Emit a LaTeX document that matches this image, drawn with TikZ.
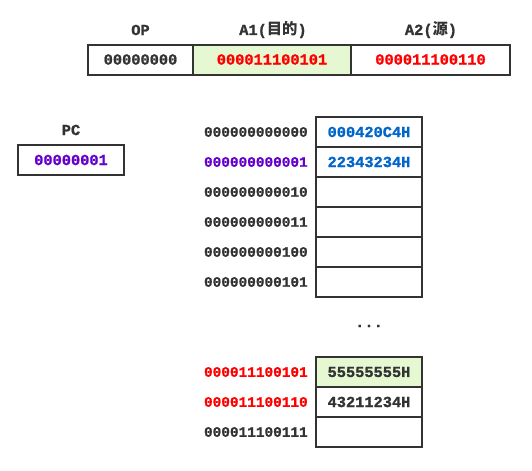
\documentclass[tikz,border=0pt]{standalone}
\usepackage{fontspec}
\setmonofont[BoldFeatures={FakeBold=1.2}]{Liberation Mono}
\newfontfamily\cjk{Noto Sans CJK SC}
\usetikzlibrary{positioning}
\definecolor{Ink}{HTML}{333333}
\definecolor{AddrRed}{HTML}{FF0000}
\definecolor{PcPurple}{HTML}{6600CC}
\definecolor{WordBlue}{HTML}{0066CC}
\definecolor{HitGreen}{HTML}{E6F8D2}

\begin{document}
\begin{tikzpicture}[
  x=0.75pt,y=-0.75pt,
  font=\ttfamily\bfseries\fontsize{11.5pt}{13pt}\selectfont,
  cell/.style={draw=Ink,line width=1.5pt,fill=white,text=Ink,
    minimum height=22.5pt,inner sep=0pt,outer sep=0pt},
  word/.style={cell,minimum width=79.5pt},
  addr/.style={anchor=east,text=Ink,inner sep=0pt,
    font=\ttfamily\bfseries\fontsize{10.8pt}{13pt}\selectfont},
  hdr/.style={text=Ink,inner sep=0pt}
]
  \useasboundingbox (0,0) rectangle (532,471);

  % instruction register
  \node[cell,minimum width=78.75pt] (op) at (140.5,59.5) {00000000};
  \node[cell,minimum width=118.5pt,fill=HitGreen,text=AddrRed,right=0pt of op]
    (aone) {000011100101};
  \node[cell,minimum width=119.25pt,text=AddrRed,right=0pt of aone]
    (atwo) {000011100110};
  \node[hdr] (ophdr) at (140.5,30) {OP};
  \node[hdr] (aonehdr) at (273,30) {A1({\cjk\bfseries 目的})};
  \node[hdr] (atwohdr) at (431,30) {A2({\cjk\bfseries 源})};

  % program counter
  \node[cell,minimum width=79.5pt,text=PcPurple] (pc) at (71,160) {00000001};
  \node[hdr] (pchdr) at (71,130) {PC};

  % memory
  \node[word,text=WordBlue] (m0) at (369,132) {000420C4H};
  \node[word,text=WordBlue,below=0pt of m0] (m1) {22343234H};
  \node[word,below=0pt of m1] (m2) {};
  \node[word,below=0pt of m2] (m3) {};
  \node[word,below=0pt of m3] (m4) {};
  \node[word,below=0pt of m4] (m5) {};
  \node[hdr] (dots) at (369,326) {...};
  \node[word,fill=HitGreen] (m6) at (369,372) {55555555H};
  \node[word,below=0pt of m6] (m7) {43211234H};
  \node[word,below=0pt of m7] (m8) {};

  \node[addr,left=6pt of m0] (a0) {000000000000};
  \node[addr,left=6pt of m1,text=PcPurple] (a1) {000000000001};
  \node[addr,left=6pt of m2] (a2) {000000000010};
  \node[addr,left=6pt of m3] (a3) {000000000011};
  \node[addr,left=6pt of m4] (a4) {000000000100};
  \node[addr,left=6pt of m5] (a5) {000000000101};
  \node[addr,left=6pt of m6,text=AddrRed] (a6) {000011100101};
  \node[addr,left=6pt of m7,text=AddrRed] (a7) {000011100110};
  \node[addr,left=6pt of m8] (a8) {000011100111};
\end{tikzpicture}
\end{document}
